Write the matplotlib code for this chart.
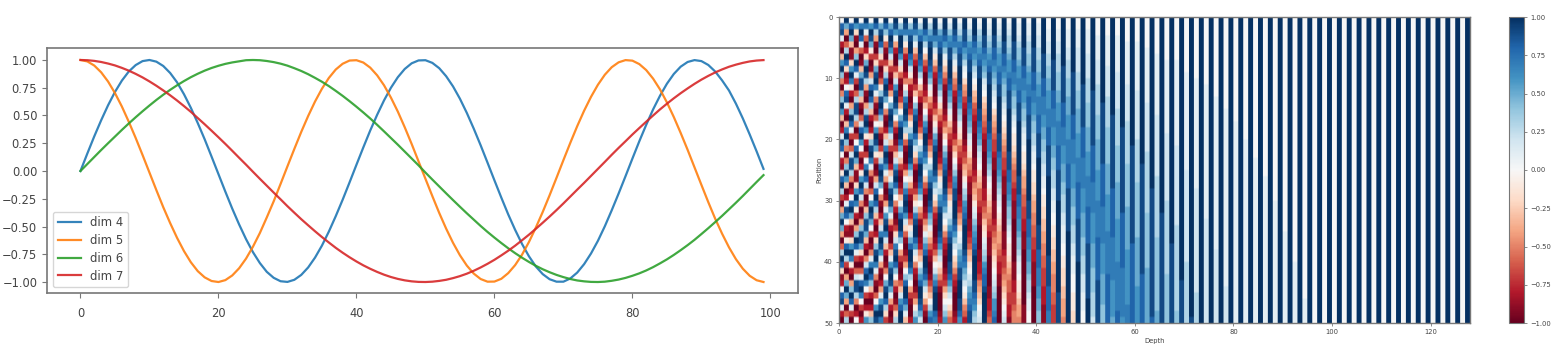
import matplotlib
matplotlib.use("Agg")
import matplotlib.pyplot as plt
import numpy as np

# left chart, values at x = 0..99
x_vals = list(range(100))
dim4 = [0, .158, .312, .457, .592, .712, .814, .896, .954, .99, 1.0, .985, .946, .883, .799, .692, .569, .432, .286, .13,
        -.028, -.186, -.339, -.482, -.614, -.731, -.829, -.908, -.962, -.993, -.999, -.98, -.936, -.869, -.78, -.672, -.546, -.407, -.259, -.103,
        .056, .213, .365, .506, .636, .75, .845, .919, .97, .996, .998, .974, .926, .854, .762, .651, .523, .382, .232, .075,
        -.084, -.24, -.391, -.53, -.657, -.768, -.86, -.929, -.975, -.997, -.997, -.968, -.915, -.839, -.743, -.629, -.498, -.354, -.203, -.047,
        .112, .268, .416, .555, .678, .786, .874, .94, .982, .999, .99, .955, .896, .816, .725, .607, .474, .329, .177, .019]
dim5 = [1.0, .987, .95, .889, .806, .702, .581, .444, .298, .144, -.014, -.172, -.326, -.469, -.602, -.721, -.822, -.902, -.958, -.991,
        -1.0, -.983, -.941, -.876, -.789, -.682, -.559, -.419, -.274, -.117, .042, .199, .352, .495, .626, .741, .838, .914, .966, .995,
        .998, .977, .931, .862, .772, .661, .535, .394, .244, .087, -.07, -.226, -.378, -.519, -.647, -.759, -.852, -.924, -.973, -.997,
        -.996, -.971, -.92, -.848, -.754, -.64, -.51, -.369, -.218, -.061, .098, .254, .404, .543, .668, .777, .867, .935, .979, .999,
        .994, .963, .909, .832, .735, .618, .486, .342, .191, .033, -.125, -.281, -.43, -.565, -.688, -.794, -.88, -.944, -.984, -1.0]
dim6 = [0, .063, .126, .189, .25, .31, .37, .428, .484, .538, .59, .64, .687, .731, .772, .81, .845, .876, .904, .928,
        .948, .965, .978, .988, .998, 1.0, .998, .991, .981, .967, .949, .926, .901, .872, .839, .804, .765, .722, .677, .629,
        .579, .527, .473, .416, .357, .297, .237, .175, .113, .051, -.014, -.077, -.139, -.201, -.262, -.322, -.381, -.438, -.495, -.549,
        -.6, -.649, -.696, -.74, -.781, -.819, -.854, -.885, -.912, -.936, -.956, -.973, -.986, -.994, -.999, -1.0, -.997, -.989, -.978, -.963,
        -.944, -.922, -.896, -.866, -.832, -.796, -.756, -.713, -.668, -.62, -.568, -.515, -.46, -.404, -.345, -.286, -.225, -.162, -.099, -.037]
dim7 = [1.0, .998, .992, .982, .968, .951, .929, .904, .875, .843, .807, .768, .726, .682, .635, .585, .533, .477, .421, .363,
        .304, .244, .182, .119, .057, -.007, -.07, -.132, -.194, -.255, -.317, -.376, -.434, -.489, -.543, -.595, -.644, -.692, -.736, -.777,
        -.815, -.85, -.881, -.909, -.934, -.955, -.972, -.985, -.994, -.999, -1.0, -.997, -.99, -.98, -.965, -.947, -.925, -.899, -.869, -.836,
        -.8, -.76, -.718, -.673, -.624, -.574, -.521, -.466, -.41, -.352, -.292, -.23, -.168, -.107, -.044, .019, .082, .146, .208, .268,
        .329, .387, .444, .5, .555, .606, .655, .701, .744, .785, .823, .857, .888, .915, .939, .958, .974, .987, .995, .999]
dim_labels = ["dim 4", "dim 5", "dim 6", "dim 7"]
left_yticks = [-1, -.75, -.5, -.25, 0, .25, .5, .75, 1]

# heatmap columns, top to bottom. a=-1.0 ... k=0 ... u=1.0, a short string keeps its last letter to the bottom
heat_cols = [
    "kstlcahquofafouqhacltskcbjsundagpupgaenusibckstlca",
    "upgaenusibckstlcahruofafouqhacltskcbjsundagpupgaen",
    "ksuphbbiqurjcagousldaemttnfacksuphbbiqurjcagouslda",
    "uqibagousldaenttnfadksuphbbiqurjcagousldaemttnfack",
    "krusleabhpttohbaemsuqkdacjqusmfabgottpicaelsurkdac",
    "urleacipu" + "tngbagntu" + "qjcadkrus" + "mfabhottp" + "hcafmsurk" + "dacjq",
    "kqutpjdabgmsusnhcacioturlfbaekqutpkdabflrusohcacho",
    "usngbadiptu" + "rlfbaekqut" + "pjdabgmsu" + "snhcaciotu" + "rlfbaekqut",
    "kptusnidabejotusojebadinsutpkfbachmrutqlgbacglqtur",
    "usojebadinsutpkfbachmrutqlgbabglqturmhcabfkptusnid",
    "kpsutqmhdbacgkptutqmhdaachlptutplgcaadhlqtutplgcab",
    "utqlgcaadhmqtutpkfcabdhmqtusokfcabdimrtusokfcabein",
    "koruutqmiebabdgkpsuusplhdbabdhlpsuusokgdbabehmqsuu",
    "utrnjfcaacfjnrtutqniebaacgkortutqmiebabdgkosuusplh",
    "kortuusqmjfcbabdgjnqtuutqnjgdbaacfjmpsuutrnkgdbaac",
    "utrolhecaabdhkortuuspmifcaabdgjnrtuusqmjfcbabdgjnq",
    "knqsuutsqnkhecaabcehknqsuutsqnkgebaabcfhloqsuutspm",
    "uusqnkhecaabcehknqsuutsqnkhecaabcfhloqsuutspmjgdba",
    "knprtuutsqoljgecbaabdfhknqrtuutspoligecbaabdfhknqs",
    "uutrpmjhecbaabcehjmprtuuutromjhecbaabcehkmprtuuusr",
    "kmprstuutsrpnligecbaaabcegjlnqrtuuutsqomjhfdbaaabc",
    "uutsqoljhfdbaaabcegiknprstuutsrpmkifdcbaabcdgikmoq",
    "kmoqrttuuutsqpnljhfdcbaaabcdfhjlmoqstuuuttsqomkige",
    "uutsrpnljhfecbaaabbcegikmoqrttuuutsqomkihfdcbaaabc",
    "kmnprsttuuutsrqonljigedcbaaaabcdfgiklnpqrttuuuttsq",
    "uuttsqpnlkigfdcbaaaabcdeghjlnoqrstuuuutsrpomkjhfec",
    "klnoqrsttuuuutsrqpomljigfecbbaaaabbcdeghjkmnpqrstt",
    "uuutsrqpnmkjhgedcbbaaaabbcdfghjlmopqrstuuuuttsrqon",
    "klnopqrsttuuuuuttsrqpnmlkihgeedcbbaaaabbccdfghiklm",
    "uuuttsrqpomlkihgfedcbbaaaabbccdefhijlmnoqrsstuuuuu",
    "klmnopqrsttuuuuuuttsrrqponlkjihgfedcbbbaaaaabbccde",
    "uuuttssrqponmlkihgfeddcbbaaaaabbbcdefghijklmnoqqrs",
    "klmnopqqrssttuuuuuutttsrrqponmlkjihggfedccbbaaaaaa",
    "uuuuttssrqpoonmlkjihgfeddcbbbaaaaaabbbcddefghijklm",
    "klmnnopqqrssttt" + "uuuuuuu" + "tttssrrqpoonmlkjjihgfeeddccb",
    "uuuutttssrrqpoonmlkjjihgfeedccbbb" + "aaaaaaa" + "bbbccddeff",
    "kllmnoopqqrrssttt" + "uuuuuuuuu" + "tttssrrqqpoonmllkjjihggf",
    "uuuuutttssrrqqpoonmllkjjihggfeeddccbbb" + "aaaaaaaaa" + "bbb",
    "kllmnnoopqqrrsssttttuuuuuuuuuutttsssrrqqpponnmllkk",
    "uuuuuttttsssrrqqpoonnmllkjjiihggffeeddccbbbbaaaaaa",
    "kllmmnnooppqqrrrsssttttuuuuuuuuuuuttttsssrrrqqppoo",
    "uuuuuuttttsssrrrqqppoonnmmllkjjiihhggffeedddcccbbb",
    "kkllmmnnooppqqqrrrsssttttt" + "uuuuuuuuuuuuu" + "tttttssssrr",
    "uuuuuuutttttsssrrrqqqppoonnnmmllkkjjiihhggfffeeddd",
    "kkllmmnnnooopp" + "qqqrrrrssssttttt" + "uuuuuuuuuuuuuuu" + "ttttt",
    "uuuuuuuuttttttssssrrrqqqpppoonnnmmlllkkjjiiihhgggf",
    "kklllmmnnnoooppp" + "qqqqrrrrssss" + "ttttttt" + "uuuuuuuuuuuuuuu",
    "uuuuuuuuutttttttssssrrrrqqqqpppooonnnmmlllkkkjjjii",
    "kklllmmmmnnnoooppppqqqqrrrrsssssstttttttuuuuuuuuuu",
    "uuuuuuuuuuutttttttsssssrrrrrqqqqppppooonnnmmmlllkk",
    "kkllllmmmmnnnnooooppppqqqqrrrrrssssssttttttttt" + "uuuu",
    "uuuuuuuuuuuutttttttttssssssrrrrrqqqqqppppoooonnnnm",
    "kkkllllmmmmnnnnnoooopppppqqqqqrrrrrrsssssssttttttt",
    "uuuuuuuuuuuuuuttttttttttsssssssrrrrrrqqqqqpppppooo",
    "kkklllllmmmmmnnnnnoooooopppppqqqqqqrrrrrrrssssssss",
    "uuuuuuuuuuuuuuuuttttttttttttssssssssrrrrrrrqqqqqqp",
    "kkkllllllmmmmmmnnnnnnooooooppppppqqqqqqqrrrrrrrrss",
    "uuuuuuuuuuuuuuuuuuttttttttttttttsssssssssrrrrrrrrq",
    "k"*4 + "l"*7 + "m"*6 + "n"*7 + "o"*7 + "p"*7 + "q"*9 + "r"*3,
    "u"*21 + "t"*16 + "s"*13,
    "k"*4 + "l"*8 + "m"*8 + "n"*7 + "o"*9 + "p"*8 + "q"*6,
    "u"*24 + "t"*18 + "s"*8,
    "k"*5 + "l"*9 + "m"*8 + "n"*10 + "o"*9 + "p"*9,
    "u"*28 + "t"*21 + "s",
    "k"*6 + "l"*10 + "m"*10 + "n"*10 + "o"*12 + "p"*2,
    "u"*32 + "t"*18,
    "k"*7 + "l"*12 + "m"*11 + "n"*12 + "o"*8,
    "u"*37 + "t"*13,
    "k"*7 + "l"*14 + "m"*13 + "n"*14 + "o"*2,
    "u"*43 + "t"*7,
    "k"*9 + "l"*16 + "m"*15 + "n"*10,
    "u"*49 + "t",
    "k"*10 + "l"*18 + "m"*17 + "n"*5, "u",
    "k"*11 + "l"*22 + "m"*17, "u",
    "k"*13 + "l"*25 + "m"*12, "u",
    "k"*15 + "l"*29 + "m"*6, "u",
    "k"*17 + "l"*33, "u",
    "k"*20 + "l"*30, "u",
    "k"*23 + "l"*27, "u",
    "k"*26 + "l"*24, "u",
    "k"*30 + "l"*20, "u",
    "k"*35 + "l"*15, "u",
    "k"*40 + "l"*10, "u",
    "k"*46 + "l"*4, "u",
] + ["k", "u"] * 16
heat_xticks = [0, 20, 40, 60, 80, 100, 120]
heat_yticks = [0, 10, 20, 30, 40, 50]
bar_ticks = [-1, -.75, -.5, -.25, 0, .25, .5, .75, 1]

W, H = 1562, 357
def px_axes(fig, x0, y0, x1, y1):
    return fig.add_axes([x0 / W, 1 - y1 / H, (x1 - x0) / W, (y1 - y0) / H])

fig = plt.figure(figsize=(W / 100, H / 100), dpi=100)
text_col = "#444444"
edge_col = "#777777"

ax = px_axes(fig, 47, 48, 798, 293)
for vals, lab in zip([dim4, dim5, dim6, dim7], dim_labels):
    ax.plot(x_vals, vals, lw=1.6, alpha=.9, label=lab)
ax.set_xlim(-4.85, 104)
ax.set_ylim(-1.099, 1.108)
ax.set_yticks(left_yticks)
ax.set_yticklabels([f"{t:.2f}".replace("-", "\u2212") for t in left_yticks])
ax.tick_params(labelsize=8.3, colors=text_col, color=edge_col)
ax.tick_params(axis="x", pad=6.5)
for s in ax.spines.values():
    s.set_color(edge_col)
    s.set_linewidth(1.2)
ax.legend(loc="lower left", fontsize=8.4, labelcolor=text_col, labelspacing=.4)

heat = np.array([[(ord(ch) - ord("k")) / 10 for ch in c[:50].ljust(50, c[-1])] for c in heat_cols[:128]]).T
ax2 = px_axes(fig, 839, 17, 1470, 323)
# repeat the cells so the bilinear filter only softens their edges
img = ax2.imshow(np.repeat(np.repeat(heat, 3, axis=0), 5, axis=1), cmap="RdBu", vmin=-1, vmax=1,
                 aspect="auto", interpolation="bilinear", extent=(0, 128, 50, 0))
ax2.set_xticks(heat_xticks)
ax2.set_yticks(heat_yticks)
ax2.set_xlabel("Depth", fontsize=4.9, color=text_col, labelpad=2)
ax2.set_ylabel("Position", fontsize=4.9, color=text_col, labelpad=1.5)
ax2.tick_params(labelsize=4.9, colors=text_col, color=edge_col, length=2.5, width=.6, pad=2)
for s in ax2.spines.values():
    s.set_color(edge_col)
    s.set_linewidth(1)

cax = px_axes(fig, 1509, 17, 1524, 323)
cb = fig.colorbar(img, cax=cax, ticks=bar_ticks)
cb.ax.set_yticklabels([f"{t:.2f}".replace("-", "\u2212") for t in bar_ticks])
cb.ax.tick_params(labelsize=4.9, colors=text_col, color=edge_col, length=2.5, width=.6, pad=2)
cb.outline.set_edgecolor(edge_col)

fig.savefig("out.png", dpi=100)
